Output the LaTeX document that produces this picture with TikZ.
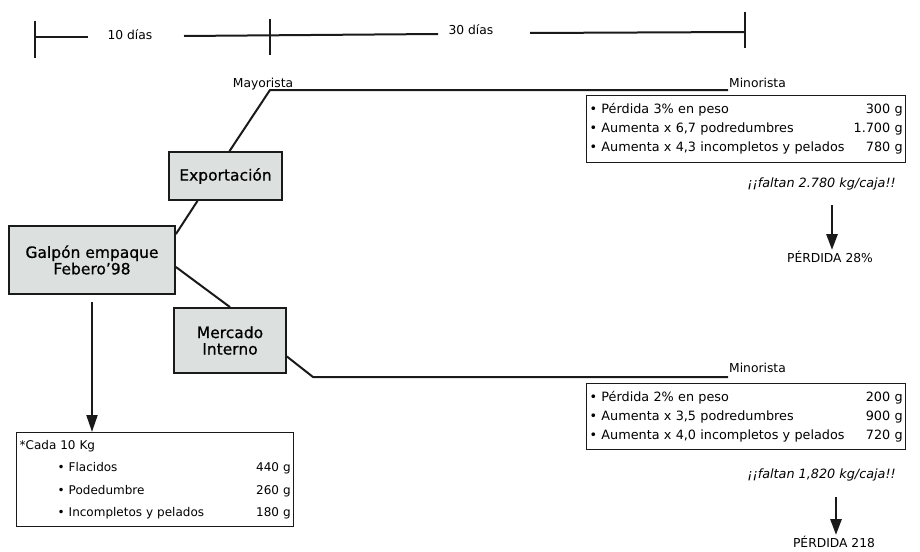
\documentclass[tikz,border=0pt]{standalone}
\usepackage{fontspec}
\setmainfont{DejaVu Sans}
\newfontfamily\heavyfont{DejaVu Sans}[FakeBold=0.7]
\usetikzlibrary{arrows.meta}
\definecolor{boxgray}{HTML}{DCE1DF}
\definecolor{ink}{HTML}{1A1A1A}
\tikzset{
  ln/.style={line width=2pt, draw=ink},
  tick/.style={line width=2.2pt, draw=ink},
  gbox/.style={draw=ink, line width=1.8pt, fill=boxgray, align=center, inner sep=2pt,
    font=\heavyfont\fontsize{15.5}{16.5}\selectfont},
  tbox/.style={draw=ink, line width=1.3pt, align=left, inner sep=3pt,
    font=\fontsize{12.8}{19}\selectfont},
  lbl/.style={font=\fontsize{12.3}{14}\selectfont, inner sep=1pt},
  faltan/.style={font=\fontsize{12.8}{14}\itshape\selectfont, inner sep=1pt},
  arr/.style={line width=2.8pt, draw=ink, -{Triangle[length=16pt,width=11pt]}},
  arrthin/.style={line width=2pt, draw=ink, -{Triangle[length=17pt,width=11pt]}}
}
\begin{document}
\begin{tikzpicture}[x=1pt,y=-1pt]
\useasboundingbox (0,0) rectangle (920,551);

% timeline
\coordinate (t0a) at (35,21);
\coordinate (t0b) at (35,58);
\coordinate (t0) at (35,37);
\coordinate (l1) at (88,37);
\node[lbl] (d10) at (130,35) {10 días};
\coordinate (l2) at (184,36);
\coordinate (t1a) at (270,19);
\coordinate (t1b) at (270,55);
\coordinate (l3) at (438,34);
\node[lbl] (d30) at (471,30) {30 días};
\coordinate (l4) at (530,33);
\coordinate (t2) at (745,32);
\coordinate (t2a) at (745,12);
\coordinate (t2b) at (745,48);
\draw[tick] (t0a) -- (t0b);
\draw[ln] (t0) -- (l1);
\draw[ln] (l2) -- (l3);
\draw[tick] (t1a) -- (t1b);
\draw[ln] (l4) -- (t2);
\draw[tick] (t2a) -- (t2b);

% grey boxes
\node[gbox, minimum width=113pt, minimum height=48pt] (exp) at (225.5,176) {Exportación};
\node[gbox, minimum width=166pt, minimum height=68pt] (gal) at (92,260) {Galpón empaque\\Febero’98};
\node[gbox, minimum width=112pt, minimum height=65pt] (mer) at (230,340.5) {Mercado\\Interno};

% upper branch
\node[lbl] (may) at (263,84) {Mayorista};
\coordinate (mayj) at (270,90);
\node[lbl, anchor=west] (min1) at (728,83) {Minorista};
\draw[ln] ([yshift=-9pt]gal.north east) -- ([xshift=-28pt]exp.south);
\draw[ln] ([xshift=4pt]exp.north) -- (mayj) -- (min1.west |- mayj);

% lower branch
\coordinate (bend) at (313,377);
\node[lbl, anchor=west] (min2) at (728,368) {Minorista};
\draw[ln] ([yshift=-7pt]gal.east) -- (mer.north);
\draw[ln] ([yshift=-16pt]mer.east) -- (bend) -- (min2.west |- bend);

% detail boxes
\node[tbox, anchor=north west, text width=313pt, minimum height=67pt] (box1) at (586,95)
{\textbullet{} Pérdida 3\% en peso\hfill 300 g\\
 \textbullet{} Aumenta x 6,7 podredumbres\hfill 1.700 g\\
 \textbullet{} Aumenta x 4,3 incompletos y pelados\hfill 780 g};
\node[faltan, anchor=east] (f1) at (897,184) {¡¡faltan 2.780 kg/caja!!};
\coordinate (a1s) at (832,205);
\node[lbl] (p1) at (830,257) {PÉRDIDA 28\%};
\draw[arr] (a1s) -- (a1s |- p1.north);

\node[tbox, anchor=north west, text width=313pt, minimum height=66pt] (box2) at (586,383)
{\textbullet{} Pérdida 2\% en peso\hfill 200 g\\
 \textbullet{} Aumenta x 3,5 podredumbres\hfill 900 g\\
 \textbullet{} Aumenta x 4,0 incompletos y pelados\hfill 720 g};
\node[faltan, anchor=east] (f2) at (897,475) {¡¡faltan 1,820 kg/caja!!};
\coordinate (a2s) at (836,497);
\node[lbl] (p2) at (834,542) {PÉRDIDA 218};
\draw[arr] (a2s) -- (a2s |- p2.north);

% bottom-left box
\node[tbox, anchor=north west, text width=271pt, minimum height=94pt,
  font=\fontsize{12}{22.5}\selectfont] (box3) at (16,432)
{*Cada 10 Kg\\
 \hspace*{38pt}\textbullet{} Flacidos\hfill 440 g\hspace*{8pt}\\
 \hspace*{38pt}\textbullet{} Podedumbre\hfill 260 g\hspace*{8pt}\\
 \hspace*{38pt}\textbullet{} Incompletos y pelados\hfill 180 g\hspace*{8pt}};
\coordinate (a3s) at (92,302);
\draw[arrthin] (a3s) -- (a3s |- box3.north);
\end{tikzpicture}
\end{document}
